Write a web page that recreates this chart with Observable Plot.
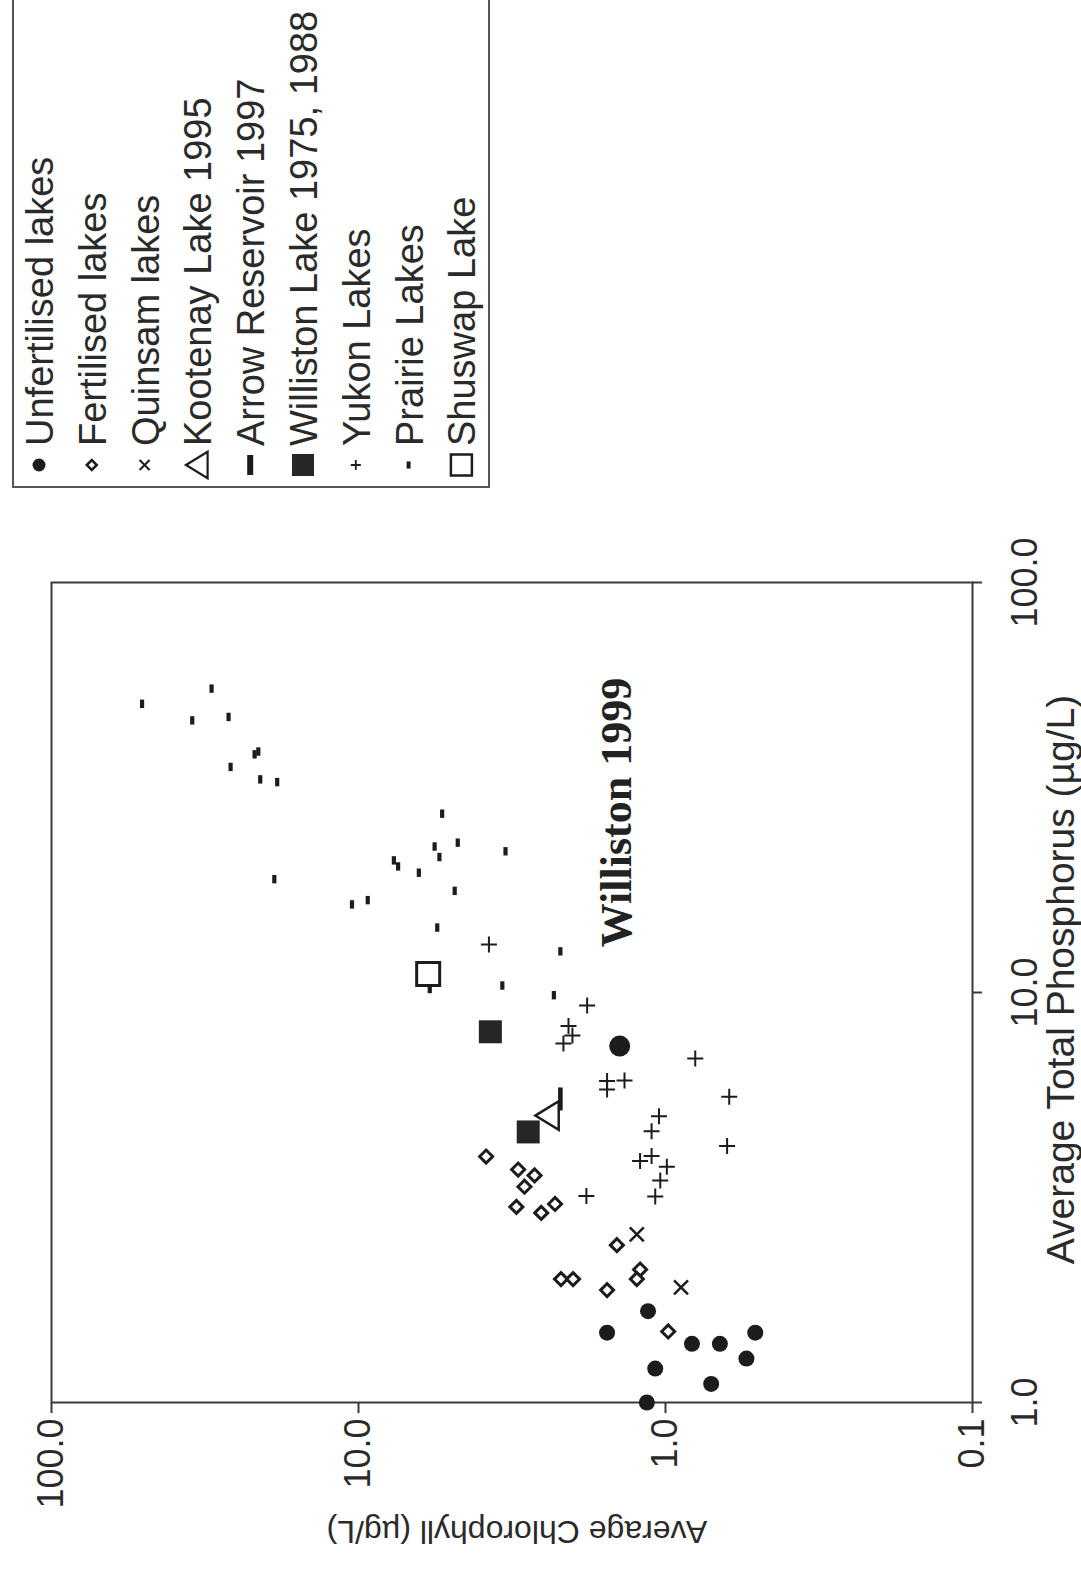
<!DOCTYPE html>
<html>
<head>
<meta charset="utf-8">
<script src="https://cdn.jsdelivr.net/npm/d3@7"></script>
<script src="https://cdn.jsdelivr.net/npm/@observablehq/plot@0.6"></script>
<style>
  html, body { margin: 0; padding: 0; background: #fff; width: 1081px; height: 1573px; overflow: hidden; }
  /* The figure is laid out landscape and turned a quarter turn counter-clockwise onto the portrait page */
  #page { position: absolute; left: 0; top: 0; width: 1573px; height: 1081px; transform-origin: 0 0;
          transform: translateY(1573px) rotate(-90deg); overflow: hidden; background: #fff; }
  #page > svg { position: absolute; left: 0; top: 0; }
  #legend { position: absolute; left: 1085px; top: 12px; width: 540px; height: 478px;
            border: 2px solid #555; box-sizing: border-box; background: #fff; }
  #legend svg { position: absolute; left: 0; top: 0; }
</style>
</head>
<body>
<div id="page"></div>
<script>
// Average total phosphorus (µg/L) and average chlorophyll (µg/L) per lake group
const unfertTP  = [1.67, 1.48, 1.39, 1.39, 1.48, 1.28, 1.21, 1.11, 1.00];
const unfertChl = [1.14, 1.55, 0.82, 0.665, 0.51, 0.545, 1.08, 0.71, 1.15];

const williston99TP  = [7.40];
const williston99Chl = [1.41];

const fertTP  = [3.98, 3.70, 3.58, 3.36, 3.00, 2.90, 3.05, 2.42, 2.00, 2.00, 1.88, 2.11, 2.00, 1.49];
const fertChl = [3.84, 3.02, 2.67, 2.88, 3.06, 2.54, 2.29, 1.44, 2.19, 2.00, 1.55, 1.21, 1.24, 0.98];

const quinsamTP  = [2.57, 1.91];
const quinsamChl = [1.24, 0.89];

const kootenayTP  = [5.01];
const kootenayChl = [2.42];

const arrowTP  = [5.50];
const arrowChl = [2.20];

const willistonTP  = [8.02, 4.57];
const willistonChl = [3.72, 2.80];

const yukonTP  = [13.1, 9.30, 8.28, 7.86, 7.51, 6.90, 6.08, 6.10, 5.80, 5.57, 4.99, 4.59, 4.22, 3.88, 3.99, 3.76, 3.48, 3.18, 3.19];
const yukonChl = [3.76, 1.80, 2.07, 2.01, 2.15, 0.80, 1.55, 1.36, 1.55, 0.62, 1.05, 1.11, 0.63, 1.21, 1.11, 0.99, 1.04, 1.08, 1.81];

const prairieTP  = [50.6, 55.1, 46.1, 47.0, 38.1, 38.7, 35.5, 33.1, 32.6, 27.3, 22.7, 23.2, 21.4, 22.1, 21.0, 20.3, 19.6, 18.9, 17.7, 16.4, 16.8, 14.4, 12.6, 10.4, 9.85, 10.2];
const prairieChl = [50.7, 30.1, 34.8, 26.5, 21.8, 21.2, 26.1, 20.9, 18.4, 5.34, 5.65, 4.75, 5.45, 3.32, 7.67, 7.43, 6.36, 18.8, 4.86, 10.5, 9.33, 5.54, 2.20, 3.40, 2.31, 5.86];

const shuswapTP  = [11.1];
const shuswapChl = [5.93];

const tpTicks  = [1, 10, 100];
const chlTicks = [0.1, 1, 10, 100];

const tpTitle  = "Average Total Phosphorus (µg/L)";
const chlTitle = "Average Chlorophyll (µg/L)";

const annotText = ["Williston 1999"];
const annotTP   = [12.9];
const annotChl  = [1.44];

const legendLabels = [
  "Unfertilised lakes", "Fertilised lakes", "Quinsam lakes", "Kootenay Lake 1995",
  "Arrow Reservoir 1997", "Williston Lake 1975, 1988", "Yukon Lakes", "Prairie Lakes", "Shuswap Lake"
];

// ---- marker shapes (size = π r², as Plot passes it) ----
const shape = fn => ({ draw(ctx, size) { fn(ctx, Math.sqrt(size / Math.PI)); } });
const circleSym   = shape((c, r) => { c.moveTo(r, 0); c.arc(0, 0, r, 0, 2 * Math.PI); c.closePath(); });
const diamondSym  = shape((c, r) => { c.moveTo(0, -r); c.lineTo(r, 0); c.lineTo(0, r); c.lineTo(-r, 0); c.closePath(); });
const timesSym    = shape((c, r) => { c.moveTo(-r, -r); c.lineTo(r, r); c.moveTo(r, -r); c.lineTo(-r, r); });
const plusSym     = shape((c, r) => { c.moveTo(-r, 0); c.lineTo(r, 0); c.moveTo(0, -r); c.lineTo(0, r); });
const triangleSym = shape((c, r) => { c.moveTo(0, -0.95 * r); c.lineTo(1.1 * r, 0.85 * r); c.lineTo(-1.1 * r, 0.85 * r); c.closePath(); });
const squareSym   = shape((c, r) => { c.rect(-r, -r, 2 * r, 2 * r); });
const dashSym     = t => shape((c, r) => { c.rect(-r, -r * t, 2 * r, 2 * r * t); });

const rows = (tp, chl) => tp.map((t, i) => ({ tp: t, chl: chl[i] }));
const fmt = d => d.toFixed(1);
const ink = "#1c1c1c";
const axisInk = "#3a3a3a";

const chart = Plot.plot({
  width: 1573,
  height: 1081,
  marginLeft: 170,
  marginRight: 583,
  marginTop: 51,
  marginBottom: 109,
  x: { type: "log", domain: [1, 100] },
  y: { type: "log", domain: [0.1, 100] },
  style: { fontFamily: "'Liberation Sans', Arial, sans-serif", color: "#2a2a2a", background: "#fff", overflow: "visible" },
  marks: [
    Plot.frame({ stroke: axisInk, strokeWidth: 2 }),
    Plot.axisX({ ticks: tpTicks, tickFormat: fmt, tickSize: 10, tickPadding: 29, fontSize: 36, label: null, stroke: axisInk, strokeWidth: 2 }),
    Plot.axisY({ ticks: chlTicks, tickFormat: fmt, tickSize: 10, tickPadding: 6, fontSize: 36, label: null, stroke: axisInk, strokeWidth: 2 }),
    Plot.text([tpTitle], { text: d => d, frameAnchor: "bottom", textAnchor: "middle", lineAnchor: "middle", dy: 89, dx: 13, fontSize: 39, fill: "#2a2a2a" }),
    Plot.text([chlTitle], { text: d => d, frameAnchor: "left", textAnchor: "middle", lineAnchor: "middle", rotate: -90, dx: -129, dy: 5, fontSize: 32, fill: "#2a2a2a" }),

    Plot.dot(rows(prairieTP, prairieChl),   { x: "tp", y: "chl", symbol: dashSym(0.5), r: 4.2, fill: ink, stroke: "none" }),
    Plot.dot(rows(yukonTP, yukonChl),       { x: "tp", y: "chl", symbol: plusSym, r: 8, fill: "none", stroke: ink, strokeWidth: 2 }),
    Plot.dot(rows(fertTP, fertChl),         { x: "tp", y: "chl", symbol: diamondSym, r: 6.5, fill: "#fff", stroke: ink, strokeWidth: 3 }),
    Plot.dot(rows(quinsamTP, quinsamChl),   { x: "tp", y: "chl", symbol: timesSym, r: 7, fill: "none", stroke: ink, strokeWidth: 2.5 }),
    Plot.dot(rows(unfertTP, unfertChl),     { x: "tp", y: "chl", symbol: circleSym, r: 8, fill: ink, stroke: "none" }),
    Plot.dot(rows(williston99TP, williston99Chl), { x: "tp", y: "chl", symbol: circleSym, r: 10.5, fill: ink, stroke: "none" }),
    Plot.dot(rows(kootenayTP, kootenayChl), { x: "tp", y: "chl", symbol: triangleSym, r: 13, fill: "none", stroke: ink, strokeWidth: 2.5 }),
    Plot.dot(rows(arrowTP, arrowChl),       { x: "tp", y: "chl", symbol: dashSym(0.2), r: 11.5, fill: ink, stroke: "none" }),
    Plot.dot(rows(willistonTP, willistonChl), { x: "tp", y: "chl", symbol: squareSym, r: 11.5, fill: "#262626", stroke: "none" }),
    Plot.dot(rows(shuswapTP, shuswapChl),   { x: "tp", y: "chl", symbol: squareSym, r: 11.5, fill: "none", stroke: ink, strokeWidth: 3 }),

    Plot.text(annotText.map((t, i) => ({ label: t, tp: annotTP[i], chl: annotChl[i] })), {
      x: "tp", y: "chl", text: "label", textAnchor: "start",
      fontFamily: "'Liberation Serif', 'Times New Roman', serif", fontWeight: "bold", fontSize: 44, fill: "#222"
    })
  ]
});

const page = document.getElementById("page");
page.appendChild(chart);

// ---- legend box ----
const legendMarks = [
  { type: circleSym,   r: 6.5, fill: ink,    stroke: "none", sw: 0 },
  { type: diamondSym,  r: 5,   fill: "#fff", stroke: ink,    sw: 2.5 },
  { type: timesSym,    r: 5,   fill: "none", stroke: ink,    sw: 2 },
  { type: triangleSym, r: 12,  fill: "none", stroke: ink,    sw: 2.2 },
  { type: dashSym(0.3),r: 10,  fill: ink,    stroke: "none", sw: 0 },
  { type: squareSym,   r: 11,  fill: "#262626", stroke: "none", sw: 0 },
  { type: plusSym,     r: 5,   fill: "none", stroke: ink,    sw: 1.8 },
  { type: dashSym(0.55), r: 3.6, fill: ink,  stroke: "none", sw: 0 },
  { type: squareSym,   r: 10.5, fill: "none", stroke: ink,   sw: 2.5 }
];

const legend = d3.select(page).append("div").attr("id", "legend");
const lsvg = legend.append("svg").attr("width", 540).attr("height", 478)
  .style("font-family", "'Liberation Sans', Arial, sans-serif");
const rowGap = 52.8, firstBaseline = 39;
const row = lsvg.selectAll("g").data(legendLabels).join("g")
  .attr("transform", (d, i) => `translate(0,${firstBaseline + i * rowGap})`);
row.append("path")
  .attr("transform", "translate(21,-14)")
  .attr("d", (d, i) => d3.symbol(legendMarks[i].type, Math.PI * legendMarks[i].r ** 2)())
  .attr("fill", (d, i) => legendMarks[i].fill)
  .attr("stroke", (d, i) => legendMarks[i].stroke)
  .attr("stroke-width", (d, i) => legendMarks[i].sw);
row.append("text")
  .attr("x", 40)
  .attr("font-size", 38)
  .attr("fill", "#2a2a2a")
  .text(d => d);
</script>
</body>
</html>
